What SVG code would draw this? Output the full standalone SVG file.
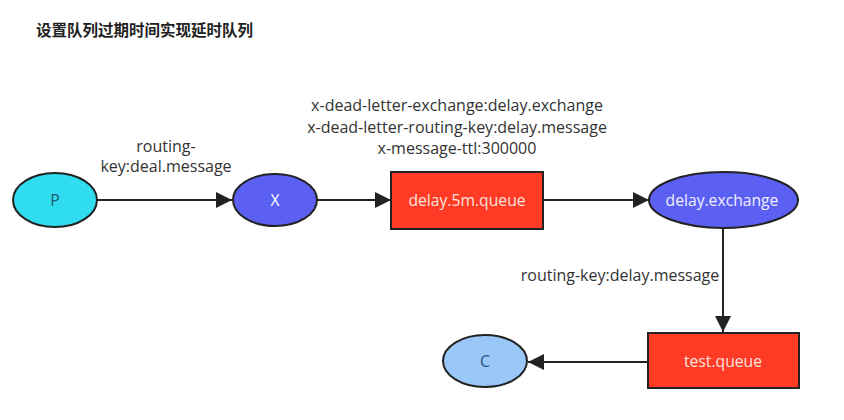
<svg xmlns="http://www.w3.org/2000/svg" width="844" height="420" viewBox="0 0 844 420">
<style>
.lbl{font-family:"Open Sans","Noto Sans",sans-serif;font-size:16px;fill:#333;text-anchor:middle}
.nt{font-family:"Open Sans","Noto Sans",sans-serif;font-size:15.7px;text-anchor:middle;dominant-baseline:central}
.node{stroke:#222;stroke-width:2}
.edge{stroke:#222;stroke-width:2;fill:none}
</style>
<defs>
<marker id="ahb" viewBox="0 0 10 10" refX="10" refY="5" markerWidth="16" markerHeight="16" markerUnits="userSpaceOnUse" orient="auto">
<path d="M0,0 L10,5 L0,10 z" fill="#222"/>
</marker>
</defs>
<rect width="844" height="420" fill="#ffffff"/>
<text x="36" y="36" font-family="'Noto Sans CJK SC',sans-serif" font-size="15.5" font-weight="bold" fill="#222">设置队列过期时间实现延时队列</text>
<g id="connectors">
<line class="edge" x1="97" y1="200" x2="232" y2="200" marker-end="url(#ahb)"/>
<line class="edge" x1="317" y1="200" x2="391" y2="200" marker-end="url(#ahb)"/>
<line class="edge" x1="543" y1="200" x2="649" y2="200" marker-end="url(#ahb)"/>
<line class="edge" x1="723" y1="228" x2="723" y2="332" marker-end="url(#ahb)"/>
<line class="edge" x1="648" y1="362" x2="528" y2="362" marker-end="url(#ahb)"/>
<text class="lbl" x="166" y="152">routing-</text>
<text class="lbl" x="166" y="172">key:deal.message</text>
<text class="lbl" x="457" y="111">x-dead-letter-exchange:delay.exchange</text>
<text class="lbl" x="457" y="133">x-dead-letter-routing-key:delay.message</text>
<text class="lbl" x="457" y="154">x-message-ttl:300000</text>
<text class="lbl" x="620" y="281">routing-key:delay.message</text>
</g>
<g id="P">
<ellipse class="node" cx="55" cy="200" rx="42" ry="27" fill="#2fdcf0"/>
<text class="nt" x="55" y="200" fill="#1d5a6a">P</text>
</g>
<g id="X">
<ellipse class="node" cx="275" cy="200" rx="42" ry="26" fill="#5b5ff2"/>
<text class="nt" x="275" y="200" fill="#ffffff">X</text>
</g>
<g id="delay5m">
<rect class="node" x="391" y="172" width="152" height="57" fill="#ff3b26"/>
<text class="nt" x="467" y="200" fill="#fbe3dd">delay.5m.queue</text>
</g>
<g id="delayExchange">
<ellipse class="node" cx="723.5" cy="200" rx="74.5" ry="28" fill="#5b5ff2"/>
<text class="nt" x="722" y="200" fill="#f0f0ff">delay.exchange</text>
</g>
<g id="testQueue">
<rect class="node" x="648" y="333" width="151" height="55" fill="#ff3b26"/>
<text class="nt" x="723" y="361" fill="#fbe3dd">test.queue</text>
</g>
<g id="C">
<ellipse class="node" cx="485" cy="361" rx="42" ry="26" fill="#99c8f8"/>
<text class="nt" x="485" y="361" fill="#2a4f7a">C</text>
</g>
</svg>
